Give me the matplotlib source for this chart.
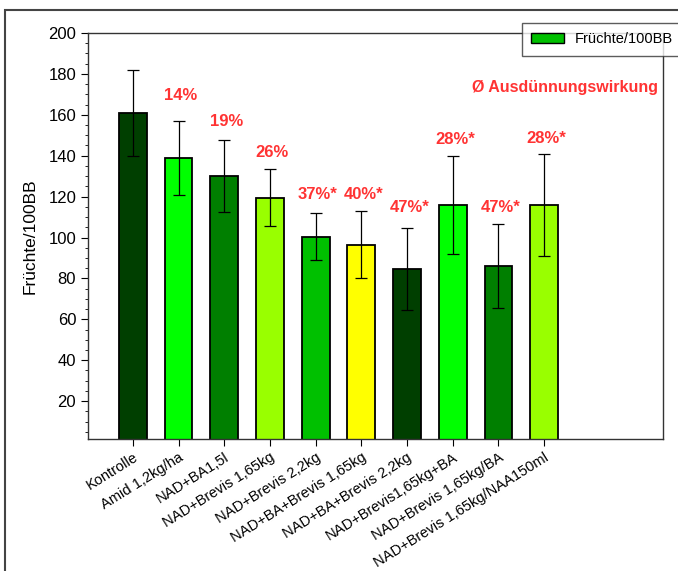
import numpy as np
import matplotlib
matplotlib.use("Agg")
import matplotlib.pyplot as plt
from matplotlib.patches import Rectangle, Patch
from matplotlib.ticker import MultipleLocator

plt.rcParams['font.family'] = ['Liberation Sans', 'DejaVu Sans']

# Fruit set per 100 flower clusters, with spread
treatments = ['Kontrolle', 'Amid 1,2kg/ha', 'NAD+BA1,5l', 'NAD+Brevis 1,65kg',
              'NAD+Brevis 2,2kg', 'NAD+BA+Brevis 1,65kg', 'NAD+BA+Brevis 2,2kg',
              'NAD+Brevis1,65kg+BA', 'NAD+Brevis 1,65kg/BA', 'NAD+Brevis 1,65kg/NAA150ml']
fruits = [161, 139, 130, 119.5, 100.5, 96.5, 84.5, 116, 86, 116]
spread = [21, 18, 17.5, 14, 11.5, 16.5, 20, 24, 20.5, 25]
thinning = ['', '14%', '19%', '26%', '37%*', '40%*', '47%*', '28%*', '47%*', '28%*']
label_gap = [0, 12.5, 9, 8, 9, 8, 10, 8, 8, 7.5]

bar_colors = ['#003f00', '#00ff00', '#007f00', '#99ff00', '#00c000',
              '#ffff00', '#003f00', '#00ff00', '#007f00', '#99ff00']

fig = plt.figure(figsize=(6.78, 5.71), dpi=100)
ax = fig.add_axes([88/678, 1 - 439/571, (663-88)/678, (439-33)/571])

x = np.arange(len(treatments))
ax.bar(x, fruits, width=0.61, color=bar_colors, edgecolor='black', linewidth=1.3, zorder=2)
ax.errorbar(x, fruits, yerr=spread, fmt='none', ecolor='black', elinewidth=0.9,
            capsize=4.5, capthick=0.9, zorder=3)

red = '#ff3333'
for i, t in enumerate(thinning):
    if t:
        ax.text(x[i] + 0.05, fruits[i] + spread[i] + label_gap[i], t, color=red,
                fontsize=12, fontweight='bold', ha='center', va='center')
ax.text(9.45, 173.5, 'Ø Ausdünnungswirkung', color=red, fontsize=11.5,
        fontweight='bold', ha='center', va='center')

ax.set_xlim(-0.98, 11.6)
ax.set_ylim(1.5, 200)
ax.yaxis.set_minor_locator(MultipleLocator(5))
ax.set_yticks(np.arange(20, 201, 20))
ax.set_xticks(x)
ax.set_xticklabels(treatments, rotation=32, ha='right', rotation_mode='anchor', fontsize=10.5)
ax.tick_params(axis='y', which='major', length=5, labelsize=12, direction='out')
ax.tick_params(axis='y', which='minor', length=2.5, direction='out')
ax.tick_params(axis='x', length=5, direction='out', pad=3)
for s in ax.spines.values():
    s.set_linewidth(1.0)
    s.set_color('#333333')
ax.set_ylabel('Früchte/100BB', fontsize=12.5, labelpad=8)

leg = fig.legend(handles=[Patch(facecolor='#00c000', edgecolor='black', label='Früchte/100BB')],
                 loc='upper left', bbox_to_anchor=(522/678, 1 - 23/571), frameon=True,
                 fancybox=False, fontsize=10.5, borderpad=0.65, handlelength=2.2,
                 borderaxespad=0)
leg.get_frame().set_edgecolor('#333333')
leg.get_frame().set_linewidth(1.0)

# outer frame around the chart
fig.patches.append(Rectangle((5/678, -0.1), 1.2, 1 - 10/571 + 0.1, transform=fig.transFigure,
                             fill=False, edgecolor='#444444', linewidth=1.5))

fig.savefig('out.png', dpi=100)
